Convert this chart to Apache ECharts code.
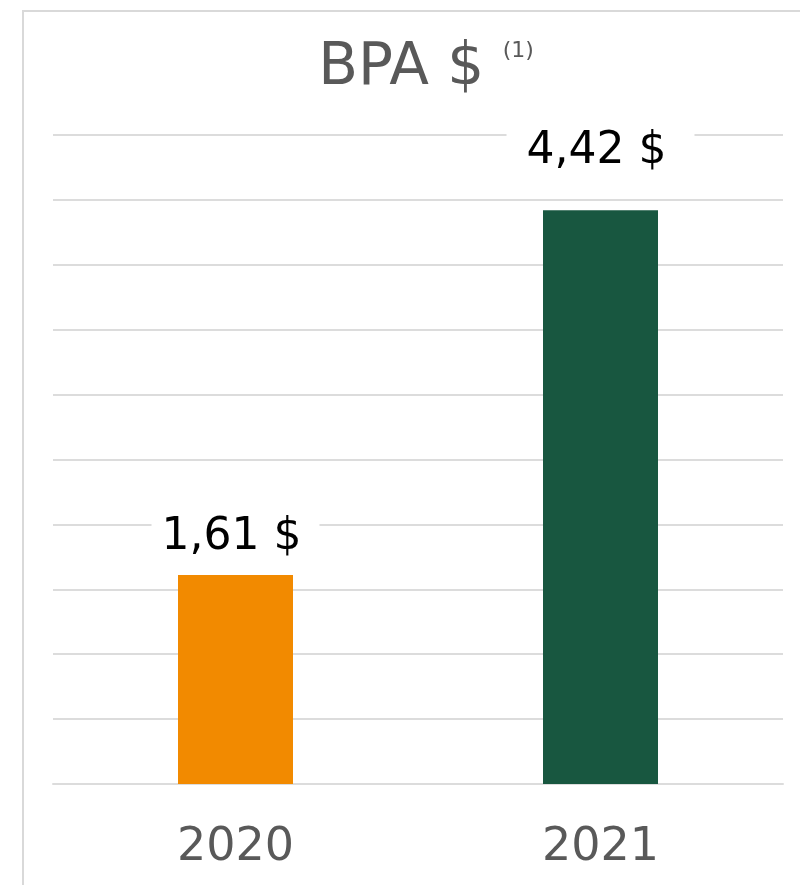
<!DOCTYPE html>
<html>
<head>
<meta charset="utf-8">
<script src="https://cdn.jsdelivr.net/npm/echarts@6/dist/echarts.min.js"></script>
<style>
  html, body { margin: 0; padding: 0; background: #fff; }
  #chart { width: 800px; height: 885px; }
</style>
</head>
<body>
<div id="chart"></div>
<script>
const years = ['2020', '2021']
const bpa = [1.61, 4.42]
const barColors = ['#F28A00', '#185740']

function formatValue(v) {
  return v.toFixed(2).replace('.', ',') + ' $'
}

const chart = echarts.init(document.getElementById('chart'))

const option = {
  animation: false,
  backgroundColor: '#fff',
  textStyle: { fontFamily: 'DejaVu Sans' },
  graphic: [
    {
      type: 'rect',
      shape: { x: 23, y: 11, width: 900, height: 900 },
      style: { fill: 'none', stroke: '#d9d9d9', lineWidth: 2 },
      silent: true
    }
  ],
  title: {
    text: 'BPA $ {sup|(1)}',
    left: 421,
    textAlign: 'center',
    top: 35,
    textStyle: {
      fontSize: 58,
      fontWeight: 'normal',
      color: '#595959',
      fontFamily: 'DejaVu Sans',
      rich: {
        sup: {
          fontSize: 22,
          color: '#595959',
          verticalAlign: 'top',
          padding: [0, 0, 28, 0]
        }
      }
    }
  },
  grid: { left: 53, right: 17, top: 135, bottom: 101 },
  xAxis: {
    type: 'category',
    data: years,
    axisLine: { show: true, lineStyle: { color: '#dcdcdc', width: 2 } },
    axisTick: { show: false },
    axisLabel: {
      fontSize: 46,
      color: '#595959',
      margin: 41
    }
  },
  yAxis: {
    type: 'value',
    min: 0,
    max: 5,
    interval: 0.5,
    axisLabel: { show: false },
    axisLine: { show: false },
    axisTick: { show: false },
    splitLine: { lineStyle: { color: '#dcdcdc', width: 2 } }
  },
  series: [
    {
      type: 'bar',
      barWidth: 115,
      data: bpa.map((v, i) => ({
        value: v,
        itemStyle: { color: barColors[i] },
        label: i === 1
          ? { distance: 30, padding: [4, 28, 4, 20] }
          : { distance: 8, padding: [4, 18, 4, 10] }
      })),
      label: {
        show: true,
        position: 'top',
        formatter: p => formatValue(p.value),
        fontSize: 44,
        color: '#000',
        lineHeight: 50,
        backgroundColor: '#fff'
      }
    }
  ]
}

chart.setOption(option)
</script>
</body>
</html>
